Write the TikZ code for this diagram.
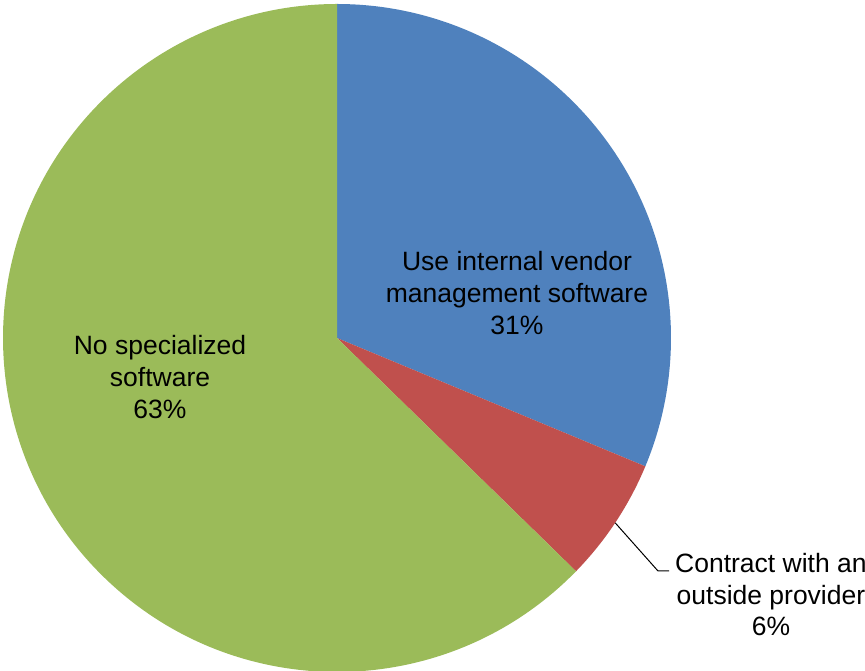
\documentclass[tikz,border=0pt]{standalone}
\usepackage{xcolor}
\definecolor{pieblue}{RGB}{79,129,189}
\definecolor{piered}{RGB}{192,80,77}
\definecolor{piegreen}{RGB}{155,187,89}
\usepackage{tikz}
\usetikzlibrary{positioning,calc}
\usepackage{fontspec}
\setmainfont{Liberation Sans}

\begin{document}
\begin{tikzpicture}[x=1pt, y=1pt,
        slicelabel/.style={align=center, inner sep=0pt, font=\fontsize{26.5}{31.7}\selectfont}]
                \useasboundingbox (0,0) rectangle (865,671);
                \coordinate (c) at (337,333);
                % Draw the three slices, clockwise from the top
                \fill[pieblue] (c) -- +(90:334) arc[start angle=90, end angle=-22.6, radius=334] -- cycle;
                \fill[piered] (c) -- +(-22.6:334) arc[start angle=-22.6, end angle=-44.3, radius=334] -- cycle;
                \fill[piegreen] (c) -- +(-44.3:334) arc[start angle=-44.3, end angle=-270, radius=334] -- cycle;

                % Labels inside the slices
                \node[slicelabel] (internal) at (517,378) {Use internal vendor\\management software\\31\%};
                \node[slicelabel] (nospecial) at (160,294) {No specialized\\software\\63\%};

                % Label outside the small slice, with a leader line
                \node[slicelabel, anchor=north west] (contract) at (675,118) {Contract with an\\outside provider\\6\%};
                \coordinate (redtip) at ($(c)+(-33.6:334)$);
                \coordinate (elbow) at (658,100);
                \draw[black, line width=1pt] (redtip) -- (elbow) -- ([xshift=-6pt]contract.west |- elbow);
        \end{tikzpicture}
\end{document}
